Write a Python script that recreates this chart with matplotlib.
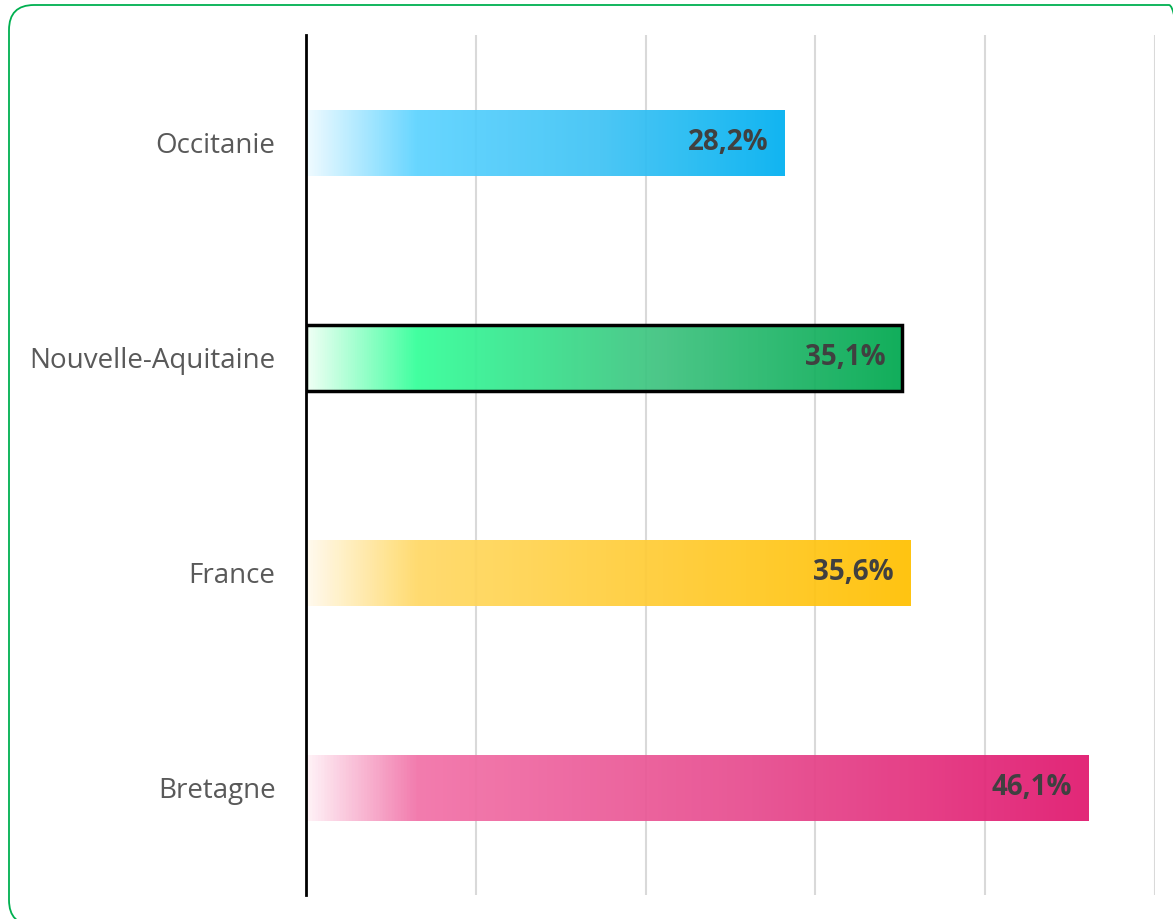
import numpy as np
import matplotlib
matplotlib.use("Agg")
import matplotlib.pyplot as plt
from matplotlib.colors import LinearSegmentedColormap
from matplotlib.patches import FancyBboxPatch

regions = ["Occitanie", "Nouvelle-Aquitaine", "France", "Bretagne"]
valeurs = [28.2, 35.1, 35.6, 46.1]
etiquettes = ["28,2%", "35,1%", "35,6%", "46,1%"]
# (debut, couleur claire, milieu, fin)
degrades = [
    ("#F0FBFF", "#5CD3FF", "#3FC3F5", "#00B0F0"),
    ("#F0FFF5", "#33FF99", "#3FC380", "#00A84F"),
    ("#FFFAEE", "#FFD966", "#FFCC33", "#FFC000"),
    ("#FFF2F7", "#F272A8", "#E74B8E", "#E0176E"),
]

plt.rcParams['font.family'] = ['Open Sans', 'DejaVu Sans']

fig = plt.figure(figsize=(11.73, 9.19), dpi=100)
ax = fig.add_axes([0.2609, 0.0261, 0.9846 - 0.2609, 0.9619 - 0.0261])

y = np.arange(len(regions))
hauteur = 0.307
barres = ax.barh(y, valeurs, height=hauteur, color="none", edgecolor="none", zorder=3)

stop = 6.5
for i, (b, v) in enumerate(zip(barres, valeurs)):
    c0, c1, c2, c3 = degrades[i]
    p = stop / v
    cmap = LinearSegmentedColormap.from_list(
        "g%d" % i, [(0, c0), (p, c1), ((p + 1) / 2, c2), (1, c3)])
    grad = np.linspace(0, 1, 512).reshape(1, -1)
    im = ax.imshow(grad, cmap=cmap, aspect="auto", alpha=0.93,
                   extent=(0, v, y[i] + hauteur / 2, y[i] - hauteur / 2),
                   interpolation="bilinear", zorder=2)
    im.set_clip_path(b)
    ax.annotate(etiquettes[i], (v, y[i]), xytext=(-12, 0), textcoords="offset points",
                ha="right", va="center", fontsize=20, fontweight="bold",
                color="#404040", zorder=4)

# contour noir pour la Nouvelle-Aquitaine
ax.barh(y[1], valeurs[1], height=hauteur, color="none", edgecolor="black",
        linewidth=2.5, zorder=5)

ax.set_xlim(0, 50)
ax.set_ylim(3.5, -0.5)
ax.set_xticks([10, 20, 30, 40, 50])
ax.xaxis.grid(True, color="#D9D9D9", linewidth=1.5, zorder=1)
ax.set_axisbelow(True)
ax.tick_params(axis="x", length=0, labelbottom=False)
ax.set_yticks(y)
ax.set_yticklabels(regions, fontsize=20, color="#595959")
ax.tick_params(axis="y", length=0, pad=22)
for s in ["top", "right", "bottom"]:
    ax.spines[s].set_visible(False)
ax.spines["left"].set_linewidth(2)
ax.spines["left"].set_color("black")
ax.spines["left"].set_zorder(6)

cadre = FancyBboxPatch((9, -6), 1185, 920, boxstyle="round,pad=0,rounding_size=25",
                       transform=None, facecolor="none", edgecolor="#00B050",
                       linewidth=1.3, zorder=10)
fig.patches.append(cadre)

fig.savefig("out.png", dpi=100)
